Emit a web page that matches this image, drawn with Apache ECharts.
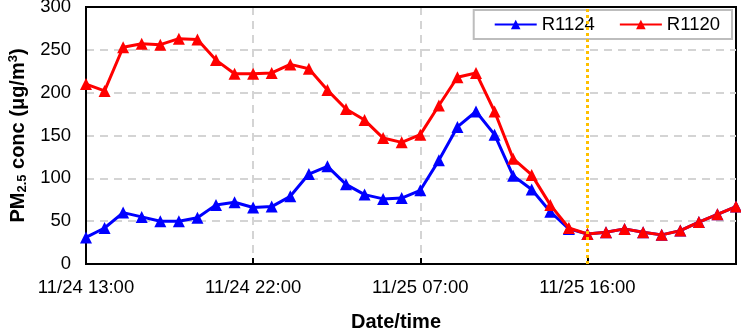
<!DOCTYPE html>
<html>
<head>
<meta charset="utf-8">
<script src="https://cdn.jsdelivr.net/npm/echarts@6/dist/echarts.min.js"></script>
<style>
  html, body { margin: 0; padding: 0; background: #fff; }
  #chart { width: 741px; height: 332px; }
</style>
</head>
<body>
<div id="chart"></div>
<script>
// hourly timestamps
const times = [
  "11/24 13:00", "11/24 14:00", "11/24 15:00", "11/24 16:00", "11/24 17:00", "11/24 18:00",
  "11/24 19:00", "11/24 20:00", "11/24 21:00", "11/24 22:00", "11/24 23:00", "11/25 00:00",
  "11/25 01:00", "11/25 02:00", "11/25 03:00", "11/25 04:00", "11/25 05:00", "11/25 06:00",
  "11/25 07:00", "11/25 08:00", "11/25 09:00", "11/25 10:00", "11/25 11:00", "11/25 12:00",
  "11/25 13:00", "11/25 14:00", "11/25 15:00", "11/25 16:00", "11/25 17:00", "11/25 18:00",
  "11/25 19:00", "11/25 20:00", "11/25 21:00", "11/25 22:00", "11/25 23:00", "11/26 00:00"
];

const r1124 = [
  31, 42, 60, 55, 50, 50, 54, 69, 72, 66, 67, 79,
  105, 114, 93, 81, 76, 77, 86, 121, 160, 178, 151, 103,
  87, 61, 41, 35, 37, 41, 37, 34, 39, 49, 58, 67
];

const r1120 = [
  210, 202, 253, 257, 256, 263, 262, 238, 222, 222, 223, 233,
  228, 203, 181, 168, 147, 142, 151, 185, 218, 223, 178, 123,
  104, 69, 42, 35, 37, 41, 37, 34, 39, 49, 58, 67
];

const yTicks = [0, 50, 100, 150, 200, 250, 300];
const gridTimes = ["11/24 22:00", "11/25 07:00"];
const markTime = "11/25 16:00";

const font = "'Liberation Sans', Arial, sans-serif";
const chart = echarts.init(document.getElementById("chart"));

chart.setOption({
  animation: false,
  textStyle: { fontFamily: font },
  grid: {
    left: 86, right: 5, top: 7, bottom: 68,
    outerBoundsMode: "none",
    show: true, borderColor: "#000", borderWidth: 2
  },
  legend: {
    right: 9, top: 10,
    padding: [5, 12, 5, 20],
    borderColor: "#bdbdbd", borderWidth: 2,
    itemWidth: 42, itemHeight: 12, itemGap: 24,
    textStyle: { fontSize: 18.5, color: "#000", fontFamily: font },
    data: ["R1124", "R1120"]
  },
  xAxis: [
    {
      type: "category",
      data: times,
      boundaryGap: false,
      name: "Date/time",
      nameLocation: "middle",
      nameGap: 48,
      nameTextStyle: { fontSize: 20, fontWeight: "bold", color: "#000", padding: [0, 30, 0, 0] },
      axisLine: { lineStyle: { color: "#000", width: 2 } },
      axisTick: { show: true, inside: true, length: 6, interval: 8, lineStyle: { color: "#000", width: 2 } },
      axisLabel: { interval: 8, fontSize: 18.5, color: "#000", margin: 14 },
      splitLine: {
        show: true,
        interval: (i, v) => gridTimes.includes(v),
        lineStyle: { color: "#d4d4d4", type: [8, 6], width: 2 }
      }
    },
    {
      // top frame line
      type: "category",
      data: times,
      boundaryGap: false,
      position: "top",
      axisLine: { show: true, lineStyle: { color: "#000", width: 2 } },
      axisTick: { show: false },
      axisLabel: { show: false },
      splitLine: { show: false }
    }
  ],
  yAxis: {
    type: "value",
    min: yTicks[0], max: yTicks[yTicks.length - 1], interval: 50,
    name: "{b|PM}{s|2.5}{b| conc (μg/m}{p|3}{b|)}",
    nameLocation: "middle",
    nameGap: 56,
    nameTextStyle: {
      rich: {
        b: { fontSize: 20, fontWeight: "bold", color: "#000", fontFamily: font },
        s: { fontSize: 13, fontWeight: "bold", color: "#000", fontFamily: font, verticalAlign: "bottom", padding: [9, 0, 0, 0] },
        p: { fontSize: 13, fontWeight: "bold", color: "#000", fontFamily: font, verticalAlign: "top", padding: [0, 0, 9, 0] }
      }
    },
    axisLine: { show: true, lineStyle: { color: "#000", width: 2 } },
    axisTick: { show: false },
    axisLabel: { fontSize: 18.5, color: "#000", margin: 15 },
    splitLine: { lineStyle: { color: "#d4d4d4", type: [8, 6], width: 2 } }
  },
  series: [
    {
      name: "R1124",
      type: "line",
      data: r1124,
      color: "#0000ff",
      symbol: "triangle",
      symbolSize: 12,
      lineStyle: { width: 3 }
    },
    {
      name: "R1120",
      type: "line",
      data: r1120,
      color: "#ff0000",
      symbol: "triangle",
      symbolSize: 12,
      lineStyle: { width: 3 },
      markLine: {
        silent: true,
        symbol: "none",
        label: { show: false },
        lineStyle: { color: "#ffc000", type: "dotted", width: 3 },
        data: [{ xAxis: markTime }]
      }
    }
  ]
});
</script>
</body>
</html>
